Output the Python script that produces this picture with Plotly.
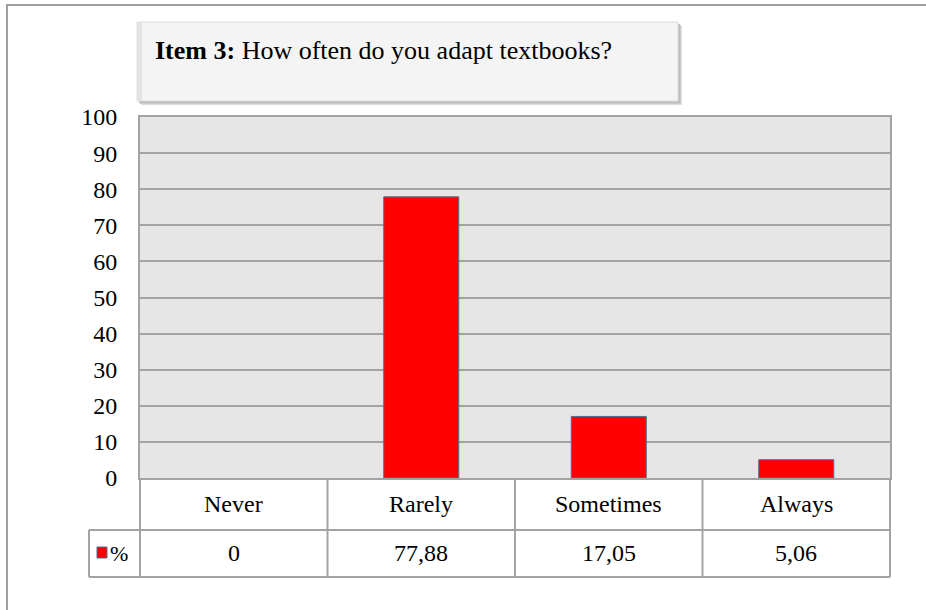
import plotly.graph_objects as go

# Survey item data
categories = ["Never", "Rarely", "Sometimes", "Always"]
percent = [0, 77.88, 17.05, 5.06]
y_ticks = [0, 10, 20, 30, 40, 50, 60, 70, 80, 90, 100]
series_name = "%"
title_bold = "Item 3:"
title_rest = " How often do you adapt textbooks?"

W, H = 926, 610
L, R, T, B = 140, 36, 117, 132
PW, PH = W - L - R, H - T - B


def px_x(x):
    return (x - L) / PW


def px_y(y):
    return (H - B - y) / PH


FONT = "Liberation Serif"
GRID = "#a3a3a3"
n = len(categories)

fig = go.Figure()
fig.add_trace(go.Bar(
    x=categories, y=percent, width=0.4, name=series_name,
    marker=dict(color="#ff0000",
                line=dict(color="#4f6d97",
                          width=[0 if v == 0 else 1 for v in percent])),
    showlegend=False,
))

shapes = []
annotations = []

# outer frame
shapes.append(dict(type="rect", xref="paper", yref="paper",
                   x0=px_x(7), x1=px_x(940), y0=px_y(5), y1=px_y(630),
                   line=dict(color="#a0a0a0", width=2), layer="below"))

# title box with soft shadow
for off, col in [(4, "#dedede"), (3, "#cccccc"), (2, "#bdbdbd")]:
    shapes.append(dict(type="rect", xref="paper", yref="paper",
                       x0=px_x(137 + off), x1=px_x(678 + off),
                       y0=px_y(101 + off), y1=px_y(22 + off),
                       fillcolor=col, line=dict(width=0), layer="below"))
shapes.append(dict(type="rect", xref="paper", yref="paper",
                   x0=px_x(137), x1=px_x(678), y0=px_y(101), y1=px_y(22),
                   fillcolor="#f4f4f4", line=dict(color="#dcdcdc", width=1),
                   layer="below"))
shapes.append(dict(type="rect", xref="paper", yref="paper",
                   x0=px_x(137), x1=px_x(142), y0=px_y(101), y1=px_y(22),
                   fillcolor="#e2e2e2", line=dict(width=0), layer="below"))
annotations.append(dict(
    xref="paper", yref="paper", x=px_x(153), y=px_y(50),
    xanchor="left", yanchor="middle", showarrow=False,
    text="<b>" + title_bold + "</b>" + title_rest,
    font=dict(family=FONT, size=26, color="black"),
))

# data table under the plot
row_top, row_mid, row_bot = px_y(478), px_y(530), px_y(577)
key_left = px_x(89)
tline = dict(color="#a3a3a3", width=2)
for k in range(n + 1):
    shapes.append(dict(type="line", xref="paper", yref="paper",
                       x0=k / n, x1=k / n, y0=row_bot, y1=row_top, line=tline))
shapes.append(dict(type="line", xref="paper", yref="paper",
                   x0=key_left, x1=key_left, y0=row_bot, y1=row_mid, line=tline))
shapes.append(dict(type="line", xref="paper", yref="paper",
                   x0=key_left, x1=1, y0=row_mid, y1=row_mid, line=tline))
shapes.append(dict(type="line", xref="paper", yref="paper",
                   x0=key_left, x1=1, y0=row_bot, y1=row_bot, line=tline))

for i, (cat, v) in enumerate(zip(categories, percent)):
    cx = (i + 0.5) / n
    annotations.append(dict(xref="paper", yref="paper", x=cx, y=px_y(504),
                            text=cat, showarrow=False, xanchor="center",
                            yanchor="middle",
                            font=dict(family=FONT, size=24, color="black")))
    label = "0" if v == 0 else f"{v:.2f}".replace(".", ",")
    annotations.append(dict(xref="paper", yref="paper", x=cx, y=px_y(553),
                            text=label, showarrow=False, xanchor="center",
                            yanchor="middle",
                            font=dict(family=FONT, size=24, color="black")))

# legend key in the table
shapes.append(dict(type="rect", xref="paper", yref="paper",
                   x0=px_x(97), x1=px_x(107), y0=px_y(558), y1=px_y(547),
                   fillcolor="#ff0000", line=dict(color="#4f6d97", width=1)))
annotations.append(dict(xref="paper", yref="paper", x=px_x(108), y=px_y(553),
                        text=series_name, showarrow=False, xanchor="left",
                        yanchor="middle",
                        font=dict(family=FONT, size=22, color="black")))

fig.update_layout(
    width=W, height=H,
    margin=dict(l=L, r=R, t=T, b=B, pad=0),
    paper_bgcolor="white",
    plot_bgcolor="#e6e6e6",
    shapes=shapes,
    annotations=annotations,
    bargap=0.6,
    xaxis=dict(range=[-0.5, n - 0.5], showticklabels=False, ticks="",
               showgrid=False, zeroline=False, showline=True,
               linecolor=GRID, linewidth=2, mirror=True, fixedrange=True),
    yaxis=dict(range=[0, 100], tickvals=y_ticks, ticks="", showgrid=True,
               gridcolor=GRID, gridwidth=2, zeroline=False, showline=True,
               linecolor=GRID, linewidth=2, mirror=True,
               ticklabelstandoff=16,
               tickfont=dict(family=FONT, size=24, color="black"),
               fixedrange=True),
)

fig.write_html("out.html")
